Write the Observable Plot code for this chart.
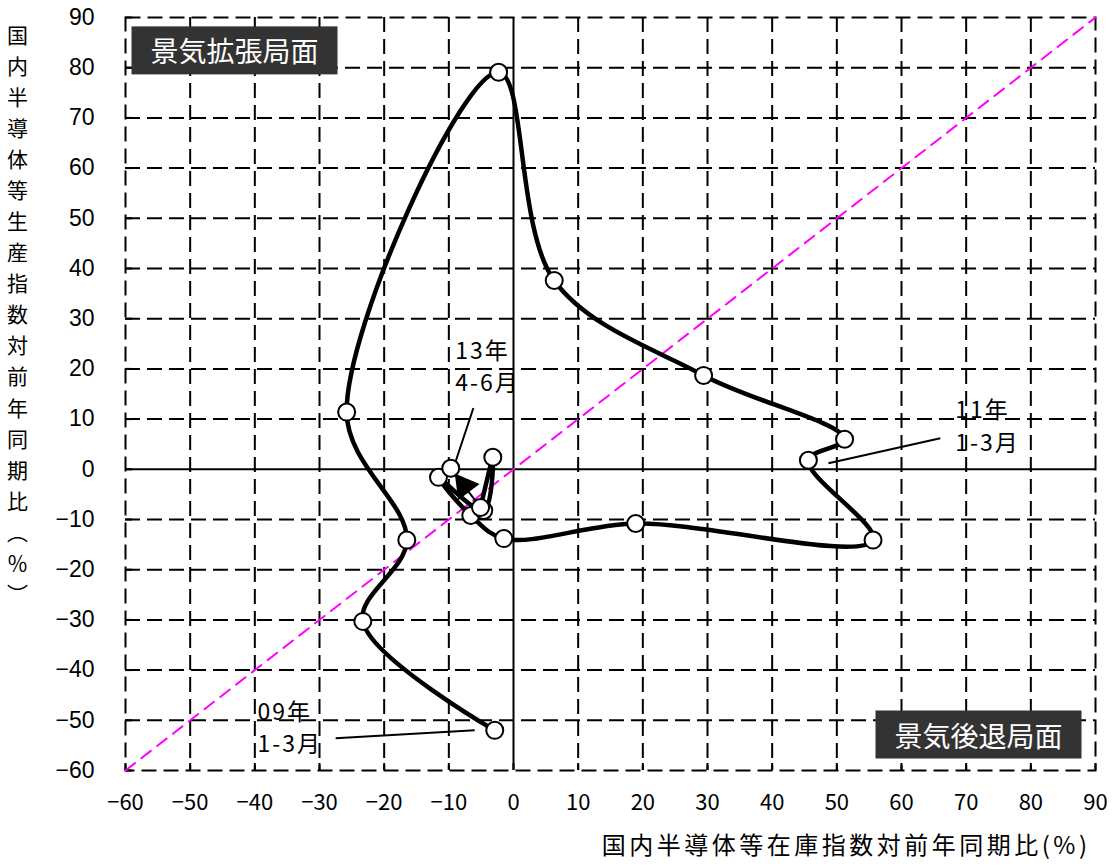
<!DOCTYPE html>
<html><head><meta charset="utf-8">
<script src="https://cdn.jsdelivr.net/npm/d3@7"></script>
<script src="https://cdn.jsdelivr.net/npm/@observablehq/plot@0.6"></script>
<style>
body{margin:0;background:#fff;}
svg{display:block;}
</style>
</head><body>
<div id="chart"></div>
<script>
// Quarters 2009Q1 .. 2013Q2
const quarters = ["09年1-3月","09年4-6月","09年7-9月","09年10-12月",
  "10年1-3月","10年4-6月","10年7-9月","10年10-12月",
  "11年1-3月","11年4-6月","11年7-9月","11年10-12月",
  "12年1-3月","12年4-6月","12年7-9月","12年10-12月",
  "13年1-3月","13年4-6月"];
// x: 国内半導体等在庫指数 対前年同期比(%)
const inventoryYoY = [-2.9, -23.3, -16.5, -25.8, -2.3, 6.3, 29.4, 51.2, 45.6, 55.6, 18.9, -1.5, -6.6, -11.6, -4.6, -3.2, -5.1, -9.7];
// y: 国内半導体等生産指数 対前年同期比(%)
const productionYoY = [-52, -30.3, -14.1, 11.4, 79.1, 37.6, 18.7, 6, 1.8, -14.1, -10.8, -13.8, -9.2, -1.6, -8.2, 2.4, -7.6, 0.2];

const xTicks = [-60,-50,-40,-30,-20,-10,0,10,20,30,40,50,60,70,80,90];
const yTicks = [-60,-50,-40,-30,-20,-10,0,10,20,30,40,50,60,70,80,90];
const diagonal = [-60, 90];
const phaseLabels = ["景気拡張局面", "景気後退局面"];
const xLabel = "国内半導体等在庫指数対前年同期比(%)";
const yLabel = "国内半導体等生産指数対前年同期比︵％︶";
// callouts: label text, label anchor, leader line
const callouts = [
  {text: "09年\n1-3月", tx: -39.6, ty: -51, lx1: -27.5, ly1: -53.6, lx2: -6, ly2: -52},
  {text: "11年\n1-3月", tx: 68.3, ty: 9.0, lx1: 66, ly1: 6.2, lx2: 48.7, ly2: 1.2},
  {text: "13年\n4-6月", tx: -9.0, ty: 20.9, lx1: -6.2, ly1: 12.2, lx2: -9.4, ly2: -0.2}
];

const pts = quarters.map((q, i) => ({q, x: inventoryYoY[i], y: productionYoY[i]}));
const pathPts = pts.slice(0, pts.length - 1);
const last = pts[pts.length - 1], prev = pts[pts.length - 2];

const W = 1114, H = 866, ML = 125, MR = 19, MT = 17, MB = 96;
const kx = (W - ML - MR) / 150, ky = (H - MT - MB) / 150;
const dash = "15,7";
const jp = "'Noto Sans CJK JP', sans-serif";

// arrowhead on the final segment (direction toward 13年4-6月)
const t = 0.55;
const arrowHead = [{
  x: prev.x + t * (last.x - prev.x),
  y: prev.y + t * (last.y - prev.y),
  rot: Math.atan2((last.x - prev.x) * kx, (last.y - prev.y) * ky) * 180 / Math.PI
}];

const plot = Plot.plot({
  width: W, height: H,
  marginLeft: ML, marginRight: MR, marginTop: MT, marginBottom: MB,
  x: {domain: [-60, 90]},
  y: {domain: [-60, 90]},
  style: {fontFamily: jp, background: "#fff", color: "#000"},
  marks: [
    // grid
    Plot.ruleX(xTicks.filter(d => d !== 0 && d !== -60 && d !== 90), {stroke: "#000", strokeWidth: 2, strokeDasharray: dash}),
    Plot.ruleY(yTicks.filter(d => d !== 0 && d !== -60 && d !== 90), {stroke: "#000", strokeWidth: 2, strokeDasharray: dash}),
    Plot.frame({stroke: "#000", strokeWidth: 2, strokeDasharray: dash}),
    // inward ticks on frame
    Plot.ruleX(xTicks, {y1: -60, y2: -58.6, stroke: "#000", strokeWidth: 2}),
    Plot.ruleY(yTicks, {x1: -60, x2: -58.9, stroke: "#000", strokeWidth: 2}),
    Plot.ruleX([0], {stroke: "#000", strokeWidth: 2}),
    Plot.ruleY([0], {stroke: "#000", strokeWidth: 2}),
    // 45° line
    Plot.line(diagonal, {x: d => d, y: d => d, stroke: "#ff00ff", strokeWidth: 2, strokeDasharray: "12,8"}),
    // leader lines
    Plot.link(callouts, {x1: "lx1", y1: "ly1", x2: "lx2", y2: "ly2", stroke: "#000", strokeWidth: 2}),
    // trajectory
    Plot.line(pathPts, {x: "x", y: "y", curve: "catmull-rom", stroke: "#000", strokeWidth: 4.5}),
    Plot.link([{x1: prev.x, y1: prev.y, x2: last.x, y2: last.y}], {x1: "x1", y1: "y1", x2: "x2", y2: "y2", stroke: "#000", strokeWidth: 2}),
    Plot.dot(pts, {x: "x", y: "y", r: 8.5, fill: "#fff", stroke: "#000", strokeWidth: 2}),
    Plot.dot(arrowHead, {x: "x", y: "y", symbol: "triangle", r: 9, fill: "#000", stroke: "#000", rotate: "rot"}),
    // callout text
    Plot.text(callouts, {x: "tx", y: "ty", text: "text", textAnchor: "start", fontSize: 23, lineHeight: 1.4, fill: "#000", fontFamily: jp}),
    // phase labels
    Plot.text([phaseLabels[0]], {frameAnchor: "top-left", dx: 109, dy: 25, textAnchor: "middle", fontSize: 28, fill: "#fff", fontFamily: jp}),
    Plot.text([phaseLabels[1]], {frameAnchor: "bottom-right", dx: -117, dy: -24, textAnchor: "middle", fontSize: 28, fill: "#fff", fontFamily: jp}),
    // axes
    Plot.axisX(xTicks, {tickSize: 0, tickPadding: 24, fontSize: 22, fontFamily: jp, label: null}),
    Plot.axisY(yTicks, {tickSize: 0, tickPadding: 31, fontSize: 23, fontFamily: "'Liberation Sans', Arial, sans-serif", label: null}),
    // axis titles
    Plot.text([xLabel], {frameAnchor: "bottom-right", dx: -5, dy: 83, textAnchor: "end", fontSize: 24, fontFamily: jp, fill: "#000"}),
    Plot.text([yLabel.split("").join("\n")], {frameAnchor: "top-left", dx: -108, dy: 3, textAnchor: "middle", lineAnchor: "top", fontSize: 21, lineHeight: 1.48, fontFamily: jp, fill: "#000"})
  ]
});
document.getElementById("chart").appendChild(plot);

const svg = d3.select(plot);
// dark boxes behind phase labels
svg.selectAll("text").each(function() {
  const el = this;
  const s = el.textContent;
  if (phaseLabels.includes(s)) {
    const bb = el.getBBox();
    const cx = bb.x + bb.width / 2, cy = bb.y + bb.height / 2;
    const r = document.createElementNS("http://www.w3.org/2000/svg", "rect");
    r.setAttribute("x", cx - 103); r.setAttribute("y", cy - 24);
    r.setAttribute("width", 206); r.setAttribute("height", 48);
    r.setAttribute("fill", "#333333");
    if (el.getAttribute("transform")) r.setAttribute("transform", el.getAttribute("transform"));
    el.parentNode.insertBefore(r, el);
  }
  if (s === xLabel) el.style.letterSpacing = "3.5px";
  if (callouts.some(c => c.text.replace("\n", "") === s)) el.style.letterSpacing = "2px";
});
</script>
</body></html>
